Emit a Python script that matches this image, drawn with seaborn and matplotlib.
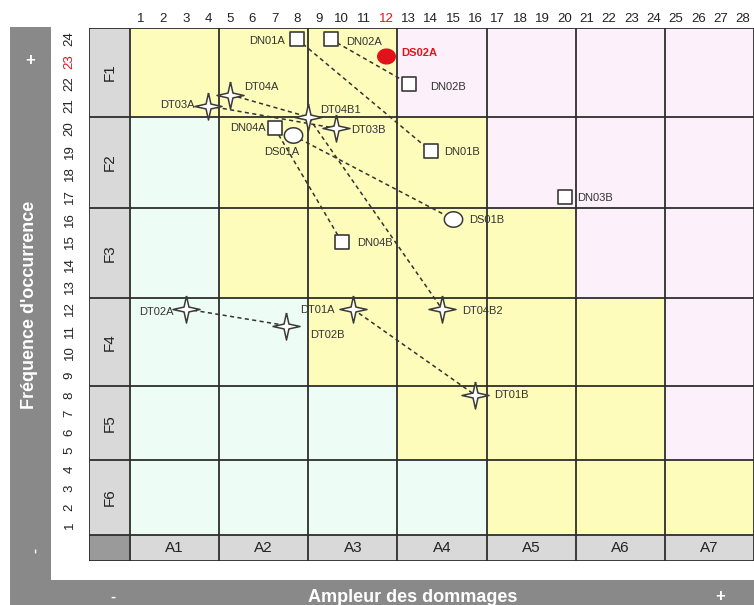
import numpy as np
import pandas as pd
import matplotlib.pyplot as plt
from matplotlib.patches import Rectangle
from matplotlib.colors import ListedColormap
import seaborn as sns

# Risk grid: rows F1..F6 (top to bottom), columns A1..A7
# 0 = low (green), 1 = medium (yellow), 2 = high (pink)
row_labels = ["F1", "F2", "F3", "F4", "F5", "F6"]
col_labels = ["A1", "A2", "A3", "A4", "A5", "A6", "A7"]
zones = [
    [1, 1, 1, 2, 2, 2, 2],
    [0, 1, 1, 1, 2, 2, 2],
    [0, 1, 1, 1, 1, 2, 2],
    [0, 0, 1, 1, 1, 1, 2],
    [0, 0, 0, 1, 1, 1, 2],
    [0, 0, 0, 0, 1, 1, 1],
]

# Events on the 28 (damage) x 24 (frequency) scale
event_names = ["DN01A", "DN02A", "DS02A", "DN02B", "DT04A", "DT03A", "DT04B1",
               "DT03B", "DN04A", "DS01A", "DN01B", "DN03B", "DS01B", "DN04B",
               "DT02A", "DT02B", "DT01A", "DT04B2", "DT01B"]
event_x = [8, 9.5, 12, 13, 5, 4, 8.5, 9.75, 7, 7.8, 14, 20, 15, 10,
           3, 7.5, 10.5, 14.5, 16]
event_y = [24, 24, 23.25, 22, 21.5, 21, 20.5, 20, 20, 19.7, 19, 17, 16, 15,
           12, 11.25, 12, 12, 8]
highlighted = ["DS02A"]

# Before / after chains joined by dashed lines
links = [
    ["DN01A", "DN01B"],
    ["DN02A", "DN02B"],
    ["DT04A", "DT04B1", "DT04B2"],
    ["DT03A", "DT03B"],
    ["DN04A", "DN04B"],
    ["DS01A", "DS01B"],
    ["DT02A", "DT02B"],
    ["DT01A", "DT01B"],
]
red_x_tick = 12
red_y_tick = 23

# Colours
zone_colors = ["#eefcf6", "#fdfcbb", "#fcf0fa"]
line_color = "#333333"
band_gray = "#898989"

sns.set_theme(style="white")
plt.rcParams["font.family"] = ["Liberation Sans", "DejaVu Sans"]

W, H = 754, 605
fig = plt.figure(figsize=(W / 100, H / 100), dpi=100)
ax = fig.add_axes([89 / W, 44 / H, (W - 89) / W, 533 / H])
ax.set_facecolor("none")

# Grey frame with white panel
fig.add_artist(Rectangle((10 / W, 0), 1, (H - 27) / H, transform=fig.transFigure,
                         facecolor=band_gray, edgecolor="none", zorder=-10))
fig.add_artist(Rectangle((51 / W, 25 / H), 1, 1, transform=fig.transFigure,
                         facecolor="white", edgecolor="none", zorder=-9))

x_left = 0.5 - 41 / 22.3
x_edges = np.arange(0.5, 29, 4)
y_edges = np.arange(0.5, 25, 4)

# Zone cells
ax.pcolormesh(x_edges, y_edges, np.array(zones)[::-1],
              cmap=ListedColormap(zone_colors), vmin=-0.5, vmax=2.5, zorder=0)

# Header cells
ax.add_patch(Rectangle((x_left, 0.5), 0.5 - x_left, 24, facecolor="#d9d9d9",
                       edgecolor="none", zorder=0))
ax.add_patch(Rectangle((0.5, -1), 28, 1.5, facecolor="#d9d9d9",
                       edgecolor="none", zorder=0))
ax.add_patch(Rectangle((x_left, -1), 0.5 - x_left, 1.5, facecolor="#9a9a9a",
                       edgecolor="none", zorder=0))

ax.vlines([x_left] + list(x_edges), -1, 24.5, colors="#2e2e2e", lw=1.3, zorder=2)
ax.hlines([-1] + list(y_edges), x_left, 28.5, colors="#2e2e2e", lw=1.3, zorder=2)

for i, lab in enumerate(row_labels):
    ax.text((x_left + 0.5) / 2, 22.5 - 4 * i, lab, rotation=90, ha="center",
            va="center", fontsize=11, color="#222222", zorder=5)
for j, lab in enumerate(col_labels):
    ax.text(2.5 + 4 * j, -0.25, lab, ha="center", va="center",
            fontsize=11, color="#222222", zorder=5)

# Event data
df = pd.DataFrame({"name": event_names, "x": event_x, "y": event_y})
df["kind"] = df["name"].str[:2]
pos = df.set_index("name")[["x", "y"]]

link_rows = []
for k, chain in enumerate(links):
    for nm in chain:
        link_rows.append({"link": k, "x": pos.loc[nm, "x"], "y": pos.loc[nm, "y"]})
link_df = pd.DataFrame(link_rows)

sns.lineplot(data=link_df, x="x", y="y", units="link", estimator=None, sort=False,
             color=line_color, lw=1.1, linestyle=(0, (2.7, 2.2)), zorder=3, ax=ax)

# Marker shapes
r = 0.18
star = [(0, 1), (r, r), (1, 0), (r, -r), (0, -1), (-r, -r), (-1, 0), (-r, r), (0, 1)]
t = np.linspace(0, 2 * np.pi, 41)
ellipse = np.column_stack([np.cos(t), 0.84 * np.sin(t)])

is_hi = df["name"].isin(highlighted)
sns.scatterplot(data=df[df["kind"] == "DN"], x="x", y="y", marker="s", s=110,
                color="white", edgecolor="#3a3a3a", linewidth=1.2, zorder=4, ax=ax)
sns.scatterplot(data=df[(df["kind"] == "DS") & ~is_hi], x="x", y="y", marker=ellipse,
                s=175, color="white", edgecolor="#3a3a3a", linewidth=1.1, zorder=4, ax=ax)
sns.scatterplot(data=df[is_hi], x="x", y="y", marker=ellipse, s=160,
                color="#e3111b", edgecolor="#e3111b", linewidth=1, zorder=4, ax=ax)
sns.scatterplot(data=df[df["kind"] == "DT"], x="x", y="y", marker=star, s=380,
                color="white", edgecolor="#3a3a3a", linewidth=1.1, zorder=4, ax=ax)

# Label placement (pixel offsets, alignment)
label_pos = {
    "DN01A": (-12, -2, "right"), "DN02A": (16, -3, "left"), "DS02A": (15, 3, "left"),
    "DN02B": (22, -3, "left"), "DT04A": (14, 8, "left"), "DT03A": (-13, 1, "right"),
    "DT04B1": (12, 7, "left"), "DT03B": (15, -2, "left"), "DN04A": (-9, 0, "right"),
    "DS01A": (-11, -17, "center"), "DN01B": (13, -1, "left"), "DN03B": (13, -1, "left"),
    "DS01B": (16, -1, "left"), "DN04B": (15, -1, "left"), "DT02A": (-12, -3, "right"),
    "DT02B": (24, -10, "left"), "DT01A": (-18, -1, "right"), "DT04B2": (20, -2, "left"),
    "DT01B": (19, 0, "left"),
}
for _, row in df.iterrows():
    dx, dy, ha = label_pos[row["name"]]
    hi = row["name"] in highlighted
    ax.annotate(row["name"], (row["x"], row["y"]), xytext=(dx, dy),
                textcoords="offset pixels", ha=ha, va="center", fontsize=8,
                color="#e3111b" if hi else "#333333",
                fontweight="bold" if hi else "normal", zorder=5)

# Shorter rows for F5 / F6 via a piecewise linear scale
y_breaks = np.array([-1.0, 0.5, 4.5, 8.5, 12.5, 16.5, 20.5, 24.5])
y_pix = np.array([0, 26, 101, 175, 263, 353, 444, 533.0])


def fwd(v):
    v = np.asarray(v, dtype=float)
    out = np.interp(v, y_breaks, y_pix)
    out = np.where(v < y_breaks[0], y_pix[0] + (v - y_breaks[0]) * 20, out)
    return np.where(v > y_breaks[-1], y_pix[-1] + (v - y_breaks[-1]) * 20, out)


def inv(p):
    p = np.asarray(p, dtype=float)
    out = np.interp(p, y_pix, y_breaks)
    out = np.where(p < y_pix[0], y_breaks[0] + (p - y_pix[0]) / 20, out)
    return np.where(p > y_pix[-1], y_breaks[-1] + (p - y_pix[-1]) / 20, out)


ax.set_yscale("function", functions=(fwd, inv))
ax.set_xlim(x_left, 28.5)
ax.set_ylim(-1, 24.5)

ax.xaxis.tick_top()
ax.set_xticks(range(1, 29))
ax.set_xticklabels([str(i) for i in range(1, 29)])
ax.set_yticks(range(1, 25))
ax.set_yticklabels([str(i) for i in range(1, 25)], rotation=90, va="center")
ax.tick_params(axis="x", length=0, pad=2.5, labelsize=9.5, colors="#222222")
ax.tick_params(axis="y", length=0, pad=9.5, labelsize=9.5, colors="#222222")
ax.get_xticklabels()[red_x_tick - 1].set_color("#e3111b")
ax.get_yticklabels()[red_y_tick - 1].set_color("#e3111b")
ax.set_xlabel("")
ax.set_ylabel("")
for sp in ax.spines.values():
    sp.set_visible(False)

# Axis titles on the grey band
band_txt = dict(color="white", fontweight="bold", ha="center", va="center")
fig.text(30 / W, 1 - 305 / H, "Fréquence d'occurrence", rotation=90, fontsize=13, **band_txt)
fig.text(30 / W, 1 - 61 / H, "+", fontsize=12, **band_txt)
fig.text(35 / W, 1 - 550 / H, "-", rotation=90, fontsize=11, **band_txt)
fig.text(413 / W, 1 - 597 / H, "Ampleur des dommages", fontsize=13, **band_txt)
fig.text(113 / W, 1 - 597 / H, "-", fontsize=11, **band_txt)
fig.text(720 / W, 1 - 597 / H, "+", fontsize=12, **band_txt)

fig.savefig("out.png", dpi=100)
